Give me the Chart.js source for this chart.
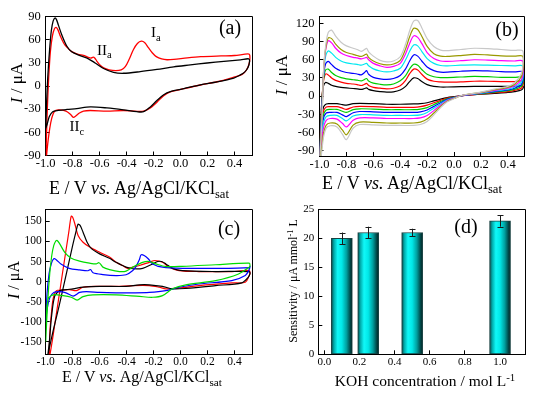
<!DOCTYPE html>
<html><head><meta charset="utf-8">
<script src="https://cdn.jsdelivr.net/npm/chart.js@4.4.0/dist/chart.umd.min.js"></script>
<style>
html,body{margin:0;padding:0;background:#fff;}
#wrap{position:relative;width:535px;height:396px;overflow:hidden;background:#fff;font-family:"Liberation Serif","Times New Roman",serif;color:#000;}
canvas{position:absolute;left:0;top:0;}
.t{position:absolute;white-space:nowrap;line-height:1;}
.c{transform:translate(-50%,-50%);}
.r{transform:translate(-50%,-50%) rotate(-90deg);}
.sub{font-size:0.7em;position:relative;top:0.35em;}
.sup{font-size:0.7em;position:relative;top:-0.5em;}
</style></head>
<body><div id="wrap">
<canvas id="ca" width="535" height="396"></canvas>
<canvas id="cb" width="535" height="396"></canvas>
<canvas id="cc" width="535" height="396"></canvas>
<canvas id="cd" width="535" height="396"></canvas>

<div class="t c" style="left:139px;top:188px;font-size:18px">E / V <i>vs.</i> Ag/AgCl/KCl<span class="sub">sat</span></div>
<div class="t c" style="left:412px;top:183px;font-size:18px">E / V <i>vs.</i> Ag/AgCl/KCl<span class="sub">sat</span></div>
<div class="t c" style="left:142px;top:377px;font-size:16px">E / V <i>vs.</i> Ag/AgCl/KCl<span class="sub">sat</span></div>
<div class="t c" style="left:425px;top:381px;font-size:15.5px">KOH concentration / mol L<span class="sup">-1</span></div>

<div class="t r" style="left:15.5px;top:83px;font-size:17px"><i>I</i> / μA</div>
<div class="t r" style="left:281px;top:75px;font-size:17px"><i>I</i> / μA</div>
<div class="t r" style="left:14px;top:280px;font-size:16px"><i>I</i> / μA</div>
<div class="t r" style="left:293px;top:281px;font-size:12px">Sensitivity / μA mmol<span class="sup">-1</span> L</div>

<div class="t c" style="left:230px;top:27px;font-size:20px">(a)</div>
<div class="t c" style="left:507px;top:29px;font-size:20px">(b)</div>
<div class="t c" style="left:229px;top:228px;font-size:20px">(c)</div>
<div class="t c" style="left:466px;top:226px;font-size:20px">(d)</div>

<div class="t" style="left:151px;top:25px;font-size:15px">I<span class="sub">a</span></div>
<div class="t" style="left:97px;top:42.5px;font-size:15px">II<span class="sub">a</span></div>
<div class="t" style="left:69.5px;top:119px;font-size:15px">II<span class="sub">c</span></div>
</div>
<script>
// ---------------- Panel (a) ----------------
const aTicksX = [-1.0, -0.8, -0.6, -0.4, -0.2, 0.0, 0.2, 0.4];
const aTicksY = [-90, -60, -30, 0, 30, 60, 90];
const aBlackE = [-1.0, -0.993, -0.985, -0.972, -0.958, -0.945, -0.932, -0.92, -0.906, -0.881, -0.844, -0.807, -0.745, -0.683, -0.633, -0.571, -0.497, -0.423, -0.299, -0.175, -0.051, 0.073, 0.197, 0.321, 0.445, 0.505, 0.512, 0.5, 0.475, 0.44, 0.395, 0.271, 0.147, 0.024, -0.076, -0.125, -0.175, -0.224, -0.274, -0.323, -0.423, -0.546, -0.670, -0.770, -0.844, -0.906, -0.948, -0.973, -0.990, -1.0];
const aBlackI = [-55, -20, 10, 45, 72, 84, 88, 86, 78.8, 66.3, 51.8, 44.3, 39.3, 35.2, 29.8, 22.7, 17.7, 16.5, 18.6, 21.5, 24.8, 27.3, 29.8, 31.9, 33.9, 35.2, 32, 24, 18, 14, 10.3, 5.3, 1.5, -3.4, -7.2, -11.3, -18.8, -27.1, -33.3, -33.3, -30.8, -28.4, -27.1, -29.2, -30.4, -31.7, -33.3, -39.6, -50, -55];
const aRedE = [-1.0, -0.995, -0.988, -0.978, -0.965, -0.95, -0.935, -0.923, -0.91, -0.89, -0.865, -0.844, -0.807, -0.76, -0.72, -0.69, -0.665, -0.648, -0.635, -0.62, -0.6, -0.57, -0.53, -0.48, -0.44, -0.41, -0.38, -0.35, -0.32, -0.29, -0.265, -0.24, -0.21, -0.18, -0.14, -0.1, -0.05, 0.05, 0.15, 0.3, 0.4, 0.5, 0.513, 0.51, 0.49, 0.457, 0.395, 0.271, 0.147, 0.024, -0.076, -0.125, -0.175, -0.224, -0.274, -0.323, -0.423, -0.546, -0.67, -0.72, -0.75, -0.775, -0.795, -0.815, -0.85, -0.906, -0.936, -0.955, -0.97, -0.985, -0.995, -1.0];
const aRedI = [-100, -70, -30, 10, 45, 65, 74, 76, 73, 64, 55, 50.5, 44.5, 41, 39.5, 37.5, 36, 37.5, 36, 32, 27.5, 23.5, 21, 20, 21, 25, 35, 47, 55, 58, 56, 50, 43, 38, 35, 34, 34.5, 36.5, 38, 39, 39.5, 41.5, 40, 30, 21, 15, 11.5, 5.5, 1.3, -3.5, -7.6, -12.5, -21, -28.5, -32.5, -32.8, -31.7, -32.5, -31.7, -32.5, -35, -38.5, -40.5, -37, -32.5, -31, -33, -41.6, -55, -75, -92, -100];

// ---------------- Panel (b) ----------------
const bTicksX = [-1.0, -0.8, -0.6, -0.4, -0.2, 0.0, 0.2, 0.4];
const bTicksY = [-90, -60, -30, 0, 30, 60, 90, 120];
const bUpperE = [-1.0, -0.99, -0.98, -0.97, -0.955, -0.935, -0.91, -0.88, -0.84, -0.8, -0.75, -0.72, -0.69, -0.665, -0.65, -0.635, -0.6, -0.55, -0.5, -0.45, -0.4, -0.36, -0.33, -0.3, -0.27, -0.24, -0.2, -0.15, -0.1, -0.05, 0.05, 0.15, 0.25, 0.35, 0.45, 0.51];
const bLowerE = [0.515, 0.5, 0.45, 0.4, 0.3, 0.2, 0.1, 0.05, 0.0, -0.05, -0.1, -0.15, -0.2, -0.25, -0.3, -0.4, -0.5, -0.6, -0.7, -0.75, -0.8, -0.83, -0.87, -0.92, -0.95, -0.97, -0.985, -0.995, -1.0];
const bBlackUp = [-105, -40, 2, 17, 22.5, 21, 18, 16, 14.5, 13.5, 12.5, 12, 11, 12.5, 13.5, 11, 9, 7.5, 6.5, 7, 10, 16, 24, 30, 29, 24, 19, 16, 15, 15, 15.5, 16, 16, 16, 16, 17];
const bBlackLow = [14, 10, 7.5, 6, 4.5, 3, 1.5, 0.5, -1, -2.5, -5, -8, -11, -12.5, -13, -13.5, -13.5, -12.5, -12, -12.5, -15, -14, -12.5, -12.5, -13, -18, -40, -80, -105];
const bRedUp = [-105, -45, 0, 25, 36.5, 35, 30, 26, 23, 21, 20, 19, 17.5, 19.5, 21, 17.5, 14.5, 13, 12, 13, 17, 26, 37, 44.5, 43, 36, 28, 24.5, 23.5, 23, 23.5, 24.5, 24.5, 24, 24, 25];
const bRedLow = [20, 13, 9.5, 7.5, 5.5, 3.5, 1.5, 0.5, -1.5, -3.5, -7, -11, -15, -17.5, -18.5, -18.5, -18.5, -17.5, -17, -18, -22, -20, -17.5, -17.5, -18, -25, -50, -85, -105];
const bGreenUp = [-105, -50, -5, 28, 43, 44.5, 39, 34, 30.5, 28.5, 27, 26.3, 25, 27.5, 29, 25, 21.5, 19.5, 18.5, 20, 25.3, 34, 45, 52.5, 51, 44, 36, 32, 30.5, 30.5, 31.5, 32.5, 32, 31, 31, 31.5];
const bGreenLow = [25, 16, 11, 9, 6.5, 4, 2, 0.5, -2, -4.5, -9, -14, -19, -21.5, -22.5, -22.5, -22.5, -21.5, -21, -22.5, -27, -25, -22, -22, -23, -31, -55, -90, -105];
const bBlueUp = [-105, -55, -10, 32, 53, 57.5, 52, 46, 41.5, 39, 37.5, 36.5, 35, 39, 42, 36, 31, 28.5, 27.5, 29, 34, 45, 58, 68, 66, 58, 48, 42, 39.5, 39.5, 41, 42, 41.5, 40.5, 40, 40.5];
const bBlueLow = [30, 19, 13, 10, 7.5, 4.5, 2, 0.5, -2.5, -5.5, -11, -17, -23, -26, -27, -27, -27, -26, -25.5, -27.5, -34, -31, -27, -27, -28, -37, -62, -95, -105];
const bCyanUp = [-105, -60, -15, 35, 65, 74.5, 71, 64, 58, 55, 53, 52.5, 51, 53, 54, 50, 45, 41.5, 40, 41.5, 46, 60, 74, 84.5, 83, 74, 62, 54, 50.5, 50, 51, 51.5, 51, 50.5, 50, 50];
const bCyanLow = [36, 23, 15, 11.5, 8.5, 5, 2.5, 0.5, -3, -6.5, -13, -20, -27, -31, -32, -32, -32, -31, -30.5, -33, -41, -37, -32, -32, -34, -44, -70, -100, -105];
const bMagentaUp = [-105, -65, -20, 38, 75, 91.5, 88, 79, 71, 67, 64, 63, 61.5, 63, 64, 60, 54, 50, 47.5, 49, 54, 70, 87, 99.5, 97, 87, 72, 62, 58, 57.5, 58.5, 60, 59.5, 58.5, 58, 58];
const bMagentaLow = [42, 27, 17, 13, 9.5, 5.5, 2.5, 0.5, -3.5, -7.5, -15, -24, -32, -36, -37, -37, -37, -36, -36, -40, -51, -45, -38, -37, -40, -52, -78, -105, -110];
const bOliveUp = [-105, -70, -25, 40, 78, 96, 95, 86, 77, 72, 69, 67, 65.5, 68, 69.5, 64, 58, 53.5, 51.5, 53, 59, 78, 98, 112, 110, 99, 82, 70, 66, 65.5, 67, 69, 68, 66.5, 66, 66];
const bOliveLow = [50, 32, 19.5, 14.5, 10.5, 6, 3, 0.5, -4, -8.5, -17, -28, -38, -43, -44.5, -44.5, -44.5, -43.5, -43, -48, -64, -56, -46, -44.5, -48, -62, -88, -110, -110];
const bGrayUp = [-105, -75, -30, 42, 82, 105, 109, 99, 89, 83, 79, 77, 74, 77, 79, 73, 66, 59, 56.5, 58, 65, 86, 108, 124, 125, 113, 95, 82, 76, 75, 77, 79, 78.5, 77, 75.5, 75];
const bGrayLow = [58, 37, 22, 16, 11.5, 6.5, 3, 0.5, -4.5, -9.5, -19, -31, -42, -47, -48.5, -48.5, -48.5, -47.5, -47, -53, -72, -63, -51, -49, -53, -68, -95, -110, -110];

// ---------------- Panel (c) ----------------
const cTicksX = [-1.0, -0.8, -0.6, -0.4, -0.2, 0.0, 0.2, 0.4];
const cTicksY = [-150, -100, -50, 0, 50, 100, 150];
const cBlackE = [-0.985, -0.95, -0.9, -0.85, -0.8, -0.775, -0.76, -0.745, -0.723, -0.693, -0.661, -0.6, -0.527, -0.478, -0.404, -0.354, -0.281, -0.207, -0.17, -0.14, -0.109, -0.06, 0.014, 0.26, 0.509, 0.515, 0.5, 0.455, 0.26, 0.039, -0.06, -0.134, -0.232, -0.305, -0.404, -0.6, -0.723, -0.797, -0.846, -0.895, -0.932, -0.956, -0.973, -0.985];
const cBlackI = [-185, -130, -60, 15, 90, 125, 143, 140, 123, 98, 82, 69, 58, 48, 36, 32, 33, 44, 50, 50, 44, 33, 27.5, 25, 25, 20, 10, -3, -10, -17, -18, -12, -8, -8, -12, -12, -14, -18, -20, -22.5, -35, -85, -150, -185];
const cRedE = [-0.97, -0.95, -0.93, -0.905, -0.875, -0.845, -0.828, -0.818, -0.81, -0.8, -0.784, -0.76, -0.723, -0.674, -0.6, -0.527, -0.478, -0.429, -0.392, -0.354, -0.305, -0.232, -0.19, -0.134, -0.085, -0.011, 0.136, 0.381, 0.509, 0.515, 0.509, 0.48, 0.381, 0.136, -0.011, -0.11, -0.158, -0.232, -0.354, -0.478, -0.6, -0.723, -0.772, -0.822, -0.871, -0.92, -0.945, -0.958, -0.968, -0.975];
const cRedI = [-185, -145, -100, -45, 22, 88, 125, 150, 163, 160, 144, 115, 98, 86, 73, 61, 48, 40, 33, 36, 40, 48, 52.5, 48, 36, 27.5, 25, 25, 27.5, 20, 15, -1.7, -3.3, -10, -16, -18, -14, -10, -10, -12, -12, -14, -22.5, -20, -21, -22.5, -43, -80, -120, -185];
const cGreenE = [-1.0, -0.985, -0.97, -0.955, -0.94, -0.925, -0.915, -0.896, -0.859, -0.81, -0.749, -0.675, -0.626, -0.605, -0.59, -0.576, -0.527, -0.453, -0.404, -0.354, -0.281, -0.232, -0.183, -0.109, 0.014, 0.26, 0.509, 0.515, 0.509, 0.43, 0.26, 0.039, -0.06, -0.134, -0.207, -0.305, -0.478, -0.65, -0.723, -0.767, -0.81, -0.871, -0.945, -0.982, -0.995, -1.0];
const cGreenI = [-150, -50, 20, 65, 90, 101, 102.5, 94, 73, 58, 51, 46, 44, 47, 42, 36, 30, 25, 26, 36, 48, 50, 44, 37.5, 38, 42, 46, 40, 36, 19, 2.5, -8, -18, -35, -39, -37, -33, -33, -37.5, -46, -39, -35, -33, -43, -90, -150];
const cBlueE = [-1.0, -0.99, -0.975, -0.958, -0.945, -0.935, -0.92, -0.887, -0.826, -0.749, -0.686, -0.668, -0.649, -0.576, -0.478, -0.404, -0.354, -0.33, -0.305, -0.293, -0.27, -0.24, -0.207, -0.134, 0.014, 0.26, 0.509, 0.515, 0.509, 0.48, 0.38, 0.136, -0.011, -0.109, -0.232, -0.354, -0.478, -0.6, -0.698, -0.748, -0.797, -0.85, -0.9, -0.94, -0.97, -0.99, -1.0];
const cBlueI = [-100, -30, 20, 45, 55, 57, 54, 44, 33, 29, 27, 30, 22, 17.5, 15, 17, 27.5, 38, 55, 66.5, 65, 57, 44, 36, 33, 33, 35, 38, 30, 15, 2.5, -6, -14, -22.5, -27, -28, -28, -27, -25, -27, -36, -28, -25, -27, -40, -70, -100];

// ---------------- Panel (d) ----------------
const kohConc = [0.1, 0.25, 0.5, 1.0];
const sensitivity = [20, 21, 21, 23];
const sensErr = [1.0, 1.0, 0.65, 1.0];
const dTicksX = [0.0, 0.2, 0.4, 0.6, 0.8, 1.0];
const dTicksY = [0, 5, 10, 15, 20, 25];

// ---------------- drawing ----------------
const FONT = '"Liberation Serif", "Times New Roman", serif';
Chart.defaults.font.family = FONT;
Chart.defaults.color = '#000';
const W = 535, H = 396, Y_W = 40, X_H = 30;

function pts(E, I) { return E.map((e, i) => ({x: e, y: I[i]})); }
function lineDs(E, I, color, w) {
  return {data: pts(E, I), borderColor: color, backgroundColor: color, borderWidth: w || 1.2,
    pointRadius: 0, showLine: true, fill: false, tension: 0.3};
}
const al = p => Math.round(p - 0.5) + 0.5;
const framePlugin = {
  id: 'frame',
  afterDraw(chart) {
    const a = chart.chartArea, c = chart.ctx;
    c.save(); c.strokeStyle = '#000'; c.lineWidth = 1;
    c.beginPath();
    c.moveTo(al(a.left), al(a.top)); c.lineTo(al(a.right), al(a.top)); c.lineTo(al(a.right), al(a.bottom));
    c.stroke(); c.restore();
  }
};
function axis(pos, min, max, ticksArr, fmt, fs, pad) {
  return {
    type: 'linear', position: pos, min: min, max: max, offset: false,
    afterBuildTicks: s => { s.ticks = ticksArr.map(v => ({value: v})); },
    afterFit: s => { if (pos === 'bottom') s.height = X_H; else s.width = Y_W; },
    grid: {display: true, drawOnChartArea: false, drawTicks: true, tickLength: -4, color: '#000', tickColor: '#000', lineWidth: 1, offset: false},
    border: {display: true, color: '#000', width: 1},
    ticks: {autoSkip: false, maxRotation: 0, minRotation: 0, padding: pad, color: '#000',
      font: {size: fs, family: FONT}, callback: v => fmt(v)}
  };
}
const f1 = v => Number(v).toFixed(1);
const f0 = v => String(Math.round(v));
function areaPad(A) {
  return {left: A.left - Y_W, top: A.top, right: W - A.right, bottom: H - A.bottom - X_H};
}
function cvChart(id, A, datasets, xMax, yMin, yMax, xt, yt, fs, padX, padY) {
  return new Chart(document.getElementById(id), {
    type: 'scatter',
    data: {datasets: datasets},
    options: {
      responsive: false, animation: false, devicePixelRatio: 1,
      layout: {padding: areaPad(A)},
      plugins: {legend: {display: false}, tooltip: {enabled: false}},
      scales: {
        x: axis('bottom', -1.0, xMax, xt, f1, fs, padX),
        y: axis('left', yMin, yMax, yt, f0, fs, padY)
      }
    },
    plugins: [framePlugin]
  });
}

// (a)
cvChart('ca', {left: 45.7, top: 11, right: 252.7, bottom: 155.5}, [
  lineDs(aBlackE, aBlackI, '#000000', 1.3),
  lineDs(aRedE, aRedI, '#ff0000', 1.3)
], 0.535, -90, 90, aTicksX, aTicksY, 12.5, 5, 9);

// (b)
const bE = bUpperE.concat(bLowerE);
cvChart('cb', {left: 319.5, top: 10, right: 524, bottom: 156}, [
  lineDs(bE, bGrayUp.concat(bGrayLow), '#c8c8c8'),
  lineDs(bE, bOliveUp.concat(bOliveLow), '#999900'),
  lineDs(bE, bMagentaUp.concat(bMagentaLow), '#ff00ff'),
  lineDs(bE, bCyanUp.concat(bCyanLow), '#00e8f0'),
  lineDs(bE, bBlueUp.concat(bBlueLow), '#0000ff'),
  lineDs(bE, bGreenUp.concat(bGreenLow), '#00cc00'),
  lineDs(bE, bRedUp.concat(bRedLow), '#ff0000'),
  lineDs(bE, bBlackUp.concat(bBlackLow), '#000000')
], 0.52, -99, 131.5, bTicksX, bTicksY, 12.5, 5, 9);

// (c)
cvChart('cc', {left: 45.7, top: 209.3, right: 252.7, bottom: 354.3}, [
  lineDs(cGreenE, cGreenI, '#00dd00'),
  lineDs(cBlueE, cBlueI, '#0000ff'),
  lineDs(cBlackE, cBlackI, '#000000'),
  lineDs(cRedE, cRedI, '#ff0000')
], 0.535, -181, 180, cTicksX, cTicksY, 11.5, 5, 8);

// (d)
const BAR_W = 21;
const errPlugin = {
  id: 'errbars',
  afterDatasetsDraw(chart) {
    const xs = chart.scales.x, ys = chart.scales.y, c = chart.ctx;
    c.save(); c.strokeStyle = '#1a1a1a'; c.lineWidth = 1;
    kohConc.forEach((k, i) => {
      const x = Math.round(xs.getPixelForValue(k)) + 0.5;
      const y1 = ys.getPixelForValue(sensitivity[i] + sensErr[i]);
      const y2 = ys.getPixelForValue(sensitivity[i] - sensErr[i]);
      c.beginPath();
      c.moveTo(x, y1); c.lineTo(x, y2);
      c.moveTo(x - 3, Math.round(y1) + 0.5); c.lineTo(x + 3, Math.round(y1) + 0.5);
      c.moveTo(x - 3, Math.round(y2) + 0.5); c.lineTo(x + 3, Math.round(y2) + 0.5);
      c.stroke();
    });
    c.restore();
  }
};
const D = {left: 318.3, top: 209.3, right: 525.7, bottom: 354.3};
new Chart(document.getElementById('cd'), {
  type: 'bar',
  data: {datasets: [{
    data: pts(kohConc, sensitivity),
    barThickness: BAR_W,
    borderWidth: 1,
    borderColor: 'rgba(0,45,45,0.9)',
    borderSkipped: false,
    backgroundColor: (ctx) => {
      const ch = ctx.chart;
      if (ctx.type !== 'data' || !ch.chartArea) return '#00dcdc';
      const cx = ch.scales.x.getPixelForValue(kohConc[ctx.dataIndex]);
      const g = ch.ctx.createLinearGradient(cx - BAR_W / 2, 0, cx + BAR_W / 2, 0);
      g.addColorStop(0, '#0b4040');
      g.addColorStop(0.12, '#00a8a8');
      g.addColorStop(0.3, '#10f8f8');
      g.addColorStop(0.5, '#00e8e8');
      g.addColorStop(0.72, '#00a0a0');
      g.addColorStop(0.9, '#004848');
      g.addColorStop(1, '#002020');
      return g;
    }
  }]},
  options: {
    responsive: false, animation: false, devicePixelRatio: 1,
    layout: {padding: areaPad(D)},
    plugins: {legend: {display: false}, tooltip: {enabled: false}},
    scales: {
      x: axis('bottom', -0.034, 1.146, dTicksX, f1, 11, 5),
      y: axis('left', 0, 25, dTicksY, f0, 11, 8)
    }
  },
  plugins: [framePlugin, errPlugin]
});
</script>
</body></html>
